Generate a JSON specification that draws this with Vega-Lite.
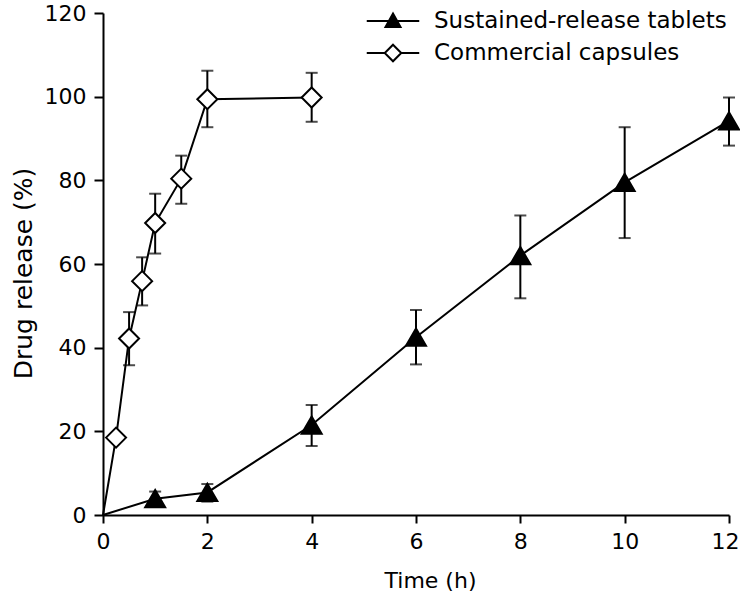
{
  "$schema": "https://vega.github.io/schema/vega-lite/v6.json",
  "autosize": {"type": "none"},
  "padding": {"left": 103, "top": 13, "right": 11, "bottom": 86},
  "width": 626,
  "height": 502,
  "background": "white",
  "config": {
    "view": {"stroke": null},
    "font": "DejaVu Sans",
    "axis": {
      "grid": false,
      "domainColor": "black",
      "domainWidth": 2,
      "tickColor": "black",
      "tickWidth": 2,
      "labelColor": "black",
      "labelFont": "DejaVu Sans",
      "labelFontSize": 22,
      "titleColor": "black",
      "titleFont": "DejaVu Sans",
      "titleFontWeight": "normal"
    }
  },
  "data": {
    "values": [
      {"series": "Sustained-release tablets", "t": 0, "mean": 0, "lo": 0, "hi": 0},
      {"series": "Sustained-release tablets", "t": 1, "mean": 3.9, "lo": 2.4, "hi": 5.6},
      {"series": "Sustained-release tablets", "t": 2, "mean": 5.4, "lo": 3.2, "hi": 7.4},
      {"series": "Sustained-release tablets", "t": 4, "mean": 21.5, "lo": 16.5, "hi": 26.3},
      {"series": "Sustained-release tablets", "t": 6, "mean": 42.5, "lo": 36.0, "hi": 49.0},
      {"series": "Sustained-release tablets", "t": 8, "mean": 62.0, "lo": 51.8, "hi": 71.6},
      {"series": "Sustained-release tablets", "t": 10, "mean": 79.5, "lo": 66.2, "hi": 92.7},
      {"series": "Sustained-release tablets", "t": 12, "mean": 94.2, "lo": 88.3, "hi": 99.8},
      {"series": "Commercial capsules", "t": 0, "mean": 0, "lo": 0, "hi": 0},
      {"series": "Commercial capsules", "t": 0.25, "mean": 18.5, "lo": 17.5, "hi": 19.5},
      {"series": "Commercial capsules", "t": 0.5, "mean": 42.2, "lo": 35.8, "hi": 48.5},
      {"series": "Commercial capsules", "t": 0.75, "mean": 55.9, "lo": 50.1, "hi": 61.6},
      {"series": "Commercial capsules", "t": 1, "mean": 69.8, "lo": 62.5, "hi": 76.8},
      {"series": "Commercial capsules", "t": 1.5, "mean": 80.4, "lo": 74.4, "hi": 85.9},
      {"series": "Commercial capsules", "t": 2, "mean": 99.4, "lo": 92.7, "hi": 106.2},
      {"series": "Commercial capsules", "t": 4, "mean": 99.8, "lo": 94.0, "hi": 105.7}
    ]
  },
  "encoding": {
    "x": {
      "field": "t",
      "type": "quantitative",
      "scale": {"domain": [0, 12], "nice": false},
      "axis": {
        "values": [0, 2, 4, 6, 8, 10, 12],
        "tickSize": 8,
        "labelPadding": 8,
        "labelFlush": false,
        "labelOffset": {"condition": {"test": "datum.value == 12", "value": -4}, "value": 0},
        "title": "Time (h)",
        "titleFontSize": 22,
        "titleX": 327,
        "titleY": 65,
        "titleBaseline": "middle",
        "titleAlign": "center"
      }
    }
  },
  "layer": [
    {
      "mark": {"type": "line", "color": "black", "strokeWidth": 2},
      "encoding": {
        "y": {
          "field": "mean",
          "type": "quantitative",
          "title": "Drug release (%)",
          "scale": {"domain": [0, 120], "nice": false},
          "axis": {
            "values": [0, 20, 40, 60, 80, 100, 120],
            "tickSize": 9,
            "labelPadding": 8,
            "labelFlush": false,
            "title": "Drug release (%)",
            "titleFontSize": 25,
            "titleAngle": -90,
            "titleX": -80,
            "titleY": 260,
            "titleBaseline": "middle",
            "titleAlign": "center"
          }
        },
        "detail": {"field": "series"}
      }
    },
    {
      "transform": [{"filter": "datum.hi > datum.lo"}],
      "mark": {"type": "errorbar", "color": "black", "thickness": 2, "ticks": {"size": 12, "thickness": 2, "color": "black"}},
      "encoding": {
        "y": {"field": "lo", "type": "quantitative", "title": "Drug release (%)"},
        "y2": {"field": "hi"}
      }
    },
    {
      "transform": [{"filter": "datum.t > 0"}],
      "mark": {"type": "point", "filled": true, "stroke": "black", "strokeWidth": 2, "size": 400, "opacity": 1},
      "encoding": {
        "y": {"field": "mean", "type": "quantitative", "title": "Drug release (%)"},
        "shape": {
          "field": "series",
          "type": "nominal",
          "scale": {"domain": ["Commercial capsules", "Sustained-release tablets"], "range": ["diamond", "triangle-up"]},
          "legend": null
        },
        "fill": {
          "field": "series",
          "type": "nominal",
          "scale": {"domain": ["Sustained-release tablets", "Commercial capsules"], "range": ["black", "white"]},
          "legend": {
            "title": null,
            "orient": "none",
            "legendX": 274,
            "legendY": -8,
            "padding": 0,
            "symbolSize": 900,
            "symbolStrokeWidth": 2,
            "symbolStrokeColor": "black",
            "symbolOpacity": 1,
            "labelFont": "DejaVu Sans",
            "labelFontSize": 23,
            "labelColor": "black",
            "labelOffset": 25,
            "labelLimit": 400,
            "rowPadding": 4,
            "encoding": {
              "symbols": {
                "shape": {"value": {"expr": "datum.value === 'Sustained-release tablets' ? 'M-1.75,0L1.75,0M0,-0.5L0.5,0.4L-0.5,0.4Z' : 'M-1.75,0L-0.55,0M0.55,0L1.75,0M0,-0.55L0.55,0L0,0.55L-0.55,0Z'"}},
                "size": {"value": 900},
                "stroke": {"value": "black"},
                "strokeWidth": {"value": 2}
              }
            }
          }
        }
      }
    }
  ]
}
